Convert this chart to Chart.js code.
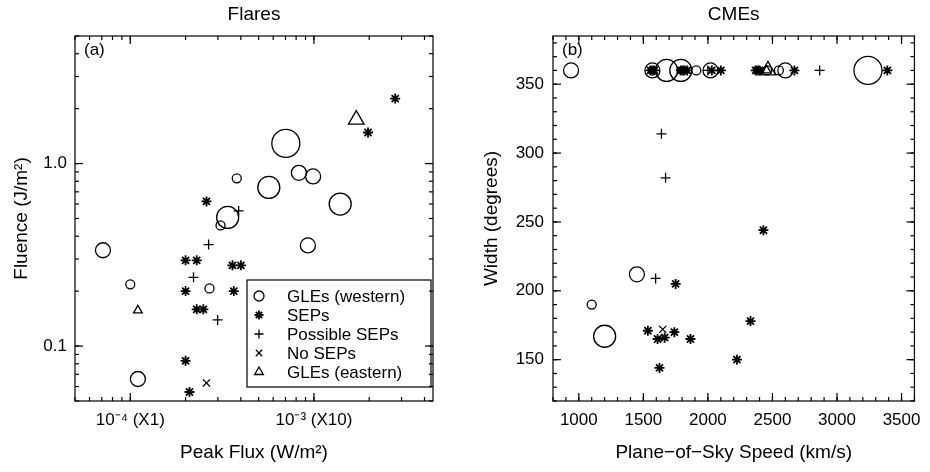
<!DOCTYPE html>
<html>
<head>
<meta charset="utf-8">
<script src="https://cdn.jsdelivr.net/npm/chart.js@4.4.1/dist/chart.umd.min.js"></script>
<style>
    html, body { margin: 0; padding: 0; background: #fff; }
    #wrap { position: relative; width: 930px; height: 472px; }
    .panel { position: absolute; top: 0; width: 465px; height: 472px; }
</style>
</head>
<body>
<div id="wrap">
    <div class="panel" style="left:0"><canvas id="flaresChart"></canvas></div>
    <div class="panel" style="left:465px"><canvas id="cmesChart"></canvas></div>
</div>
<script>
// ---- (a) Flares: peak flux (W/m2) vs fluence (J/m2) ----
const flareGleWFlux    = [7.1e-5, 1.0e-4, 1.1e-4, 2.7e-4, 3.1e-4, 3.39e-4, 3.8e-4, 5.68e-4, 7.03e-4, 8.28e-4, 9.9e-4, 9.27e-4, 1.39e-3];
const flareGleWFluence = [0.335, 0.218, 0.066, 0.207, 0.458, 0.507, 0.83, 0.74, 1.29, 0.89, 0.85, 0.356, 0.60];
const flareGleWClass   = [2, 1, 2, 1, 1, 3, 1, 3, 4, 2, 2, 2, 3];

const flareSepFlux    = [2.6e-4, 2.0e-4, 2.3e-4, 3.6e-4, 4.0e-4, 2.0e-4, 3.66e-4, 2.3e-4, 2.5e-4, 2.0e-4, 2.1e-4, 1.97e-3, 2.77e-3];
const flareSepFluence = [0.62, 0.295, 0.295, 0.277, 0.277, 0.2, 0.2, 0.159, 0.159, 0.083, 0.056, 1.48, 2.27];

const flarePossFlux    = [3.89e-4, 2.67e-4, 2.21e-4, 2.99e-4];
const flarePossFluence = [0.55, 0.36, 0.238, 0.139];

const flareNoSepFlux    = [2.6e-4];
const flareNoSepFluence = [0.0628];

const flareGleEFlux    = [1.1e-4, 1.7e-3];
const flareGleEFluence = [0.157, 1.74];
const flareGleEClass   = [1, 3];

const fluxTicks = [1e-4, 1e-3];
const fluxTickLabels = ['10\u207B\u2074 (X1)', '10\u207B\u00B3 (X10)'];
const fluenceTicks = [0.1, 1];
const fluenceTickLabels = ['0.1', '1.0'];

// ---- (b) CMEs: plane-of-sky speed (km/s) vs width (degrees) ----
const cmeGleWSpeed = [940, 1570, 1680, 1790, 1910, 2020, 2460, 2550, 2600, 3240, 1450, 1100, 1200];
const cmeGleWWidth = [360, 360, 360, 360, 360, 360, 360, 360, 360, 360, 212, 190, 167];
const cmeGleWClass = [2, 2, 3, 3, 1, 2, 1, 1, 2, 4, 2, 1, 3];

const cmeSepSpeed = [1555, 1570, 1585, 1790, 1805, 1820, 1840, 2030, 2100, 2370, 2385, 2400, 2670, 3390,
                     1750, 1535, 1610, 1665, 1740, 1865, 1625, 2225, 2330, 2430];
const cmeSepWidth = [360, 360, 360, 360, 360, 360, 360, 360, 360, 360, 360, 360, 360, 360,
                     205, 171, 165, 166, 170, 165, 144, 150, 178, 244];

const cmePossSpeed = [1595, 1640, 1672, 2000, 2866];
const cmePossWidth = [209, 314, 282, 360, 360];

const cmeNoSepSpeed = [1650];
const cmeNoSepWidth = [172];

const cmeGleESpeed = [2455, 2465];
const cmeGleEWidth = [360, 360];
const cmeGleEClass = [1, 3];

const speedTicks = [1000, 1500, 2000, 2500, 3000, 3500];
const widthTicks = [150, 200, 250, 300, 350];

// marker radius for each size class
const circleRadius = [0, 4.5, 7.5, 11, 14];
const triangleRadius = [0, 5, 7, 9];

const FONT = "'Liberation Sans', Arial, Helvetica, sans-serif";

function pts(xs, ys) {
    return xs.map(function(x, i) { return {x: x, y: ys[i]}; });
}

const styles = {
    gleW:  {label: 'GLEs (western)', pointStyle: 'circle',   borderWidth: 1.3, radius: 0, legendRadius: 5},
    sep:   {label: 'SEPs',           pointStyle: 'star',     borderWidth: 1.8, radius: 5, legendRadius: 4.5},
    poss:  {label: 'Possible SEPs',  pointStyle: 'cross',    borderWidth: 1.3, radius: 5, legendRadius: 4.5},
    noSep: {label: 'No SEPs',        pointStyle: 'crossRot', borderWidth: 1.3, radius: 5, legendRadius: 4.5},
    gleE:  {label: 'GLEs (eastern)', pointStyle: 'triangle', borderWidth: 1.3, radius: 0, legendRadius: 5}
};

function dataset(key, data, radius) {
    const s = styles[key];
    return {
        label: s.label,
        data: data,
        pointStyle: s.pointStyle,
        pointRadius: radius === undefined ? s.radius : radius,
        backgroundColor: 'rgba(0,0,0,0)',
        borderColor: '#000',
        borderWidth: s.borderWidth
    };
}

function logMinor(min, max) {
    const out = [];
    for (let d = 1e-6; d < 100; d *= 10) {
        for (let m = 1; m <= 9; m++) {
            const v = +(m * d).toPrecision(3);
            if (v >= min && v <= max) out.push(v);
        }
    }
    return out;
}

function linMinor(min, max, step) {
    const out = [];
    for (let v = Math.ceil(min / step) * step; v <= max; v += step) out.push(v);
    return out;
}

// frame with inward ticks on all four sides + panel tag
const framePlugin = {
    id: 'frame',
    afterDraw(chart, args, opts) {
        const ctx = chart.ctx;
        const a = chart.chartArea;
        const sx = chart.scales.x, sy = chart.scales.y;
        ctx.save();
        ctx.strokeStyle = '#000';
        ctx.lineWidth = 1.2;
        ctx.strokeRect(a.left, a.top, a.right - a.left, a.bottom - a.top);

        function seg(x1, y1, x2, y2) {
            ctx.beginPath(); ctx.moveTo(x1, y1); ctx.lineTo(x2, y2); ctx.stroke();
        }
        function xTicks(vals, len) {
            vals.forEach(function(v) {
                const p = sx.getPixelForValue(v);
                if (p < a.left - 0.5 || p > a.right + 0.5) return;
                seg(p, a.bottom, p, a.bottom - len);
                seg(p, a.top, p, a.top + len);
            });
        }
        function yTicks(vals, len) {
            vals.forEach(function(v) {
                const p = sy.getPixelForValue(v);
                if (p < a.top - 0.5 || p > a.bottom + 0.5) return;
                seg(a.left, p, a.left + len, p);
                seg(a.right, p, a.right - len, p);
            });
        }
        xTicks(opts.xMinor, 4);
        xTicks(opts.xMajor, 8);
        yTicks(opts.yMinor, 4);
        yTicks(opts.yMajor, 8);

        ctx.fillStyle = '#000';
        ctx.font = '17px ' + FONT;
        ctx.textAlign = 'left';
        ctx.textBaseline = 'middle';
        ctx.fillText(opts.tag, a.left + 9, a.top + 14);
        ctx.restore();
    }
};

// boxed legend inside the flares panel
const boxLegendPlugin = {
    id: 'boxLegend',
    afterDraw(chart, args, opts) {
        if (!opts.show) return;
        const ctx = chart.ctx;
        const a = chart.chartArea;
        const left = a.left + 172, top = a.top + 244;
        const right = a.right - 2, bottom = a.top + 351;
        ctx.save();
        ctx.strokeStyle = '#000';
        ctx.lineWidth = 1.2;
        ctx.strokeRect(left, top, right - left, bottom - top);
        ctx.font = '17px ' + FONT;
        ctx.textAlign = 'left';
        ctx.textBaseline = 'middle';
        ['gleW', 'sep', 'poss', 'noSep', 'gleE'].forEach(function(key, i) {
            const s = styles[key];
            const y = top + 16 + i * 19;
            ctx.strokeStyle = '#000';
            ctx.fillStyle = 'rgba(0,0,0,0)';
            ctx.lineWidth = s.borderWidth;
            Chart.helpers.drawPoint(ctx, {pointStyle: s.pointStyle, rotation: 0, radius: s.legendRadius, borderWidth: s.borderWidth}, left + 12, y);
            ctx.fillStyle = '#000';
            ctx.fillText(s.label, left + 40, y + 1);
        });
        ctx.restore();
    }
};

function axisCommon(tickValues, tickLabels, pad) {
    return {
        afterBuildTicks: function(scale) {
            scale.ticks = tickValues.map(function(v) { return {value: v}; });
        },
        grid: {display: false, drawTicks: false},
        border: {display: false},
        ticks: {
            autoSkip: false,
            maxRotation: 0,
            padding: pad,
            color: '#000',
            font: {family: FONT, size: 17},
            callback: function(value, index) { return tickLabels[index]; }
        }
    };
}

function buildChart(canvasId, cfg) {
    const xAxis = Object.assign(axisCommon(cfg.xTicks, cfg.xTickLabels, 9), {
        type: cfg.xType, min: cfg.xMin, max: cfg.xMax,
        afterFit: function(scale) { scale.height = 71; },
        title: {display: true, text: cfg.xTitle, color: '#000', font: {family: FONT, size: 19}, padding: {top: 0, bottom: 8}}
    });
    const yAxis = Object.assign(axisCommon(cfg.yTicks, cfg.yTickLabels, cfg.yPad), {
        type: cfg.yType, min: cfg.yMin, max: cfg.yMax,
        afterFit: function(scale) { scale.width = cfg.yWidth; },
        title: {display: true, text: cfg.yTitle, color: '#000', font: {family: FONT, size: 19}, padding: {top: cfg.yTitlePad, bottom: 0}}
    });
    return new Chart(document.getElementById(canvasId), {
        type: 'scatter',
        data: {datasets: cfg.datasets},
        options: {
            responsive: true,
            maintainAspectRatio: false,
            animation: false,
            events: [],
            layout: {padding: {left: 0, right: cfg.rightPad, top: 0, bottom: 0}},
            scales: {x: xAxis, y: yAxis},
            plugins: {
                legend: {display: false},
                tooltip: {enabled: false},
                title: {
                    display: true, text: cfg.title, color: '#000', fullSize: false,
                    font: {family: FONT, size: 19, weight: 'normal'},
                    padding: {top: 3, bottom: 10.2}
                },
                frame: {tag: cfg.tag, xMajor: cfg.xTicks, xMinor: cfg.xMinor, yMajor: cfg.yTicks, yMinor: cfg.yMinor},
                boxLegend: {show: cfg.legend}
            }
        },
        plugins: [framePlugin, boxLegendPlugin]
    });
}

buildChart('flaresChart', {
    title: 'Flares', tag: '(a)', legend: true,
    xType: 'logarithmic', xMin: 5e-5, xMax: 4.45e-3,
    yType: 'logarithmic', yMin: 0.05, yMax: 5,
    xTicks: fluxTicks, xTickLabels: fluxTickLabels, xMinor: logMinor(5e-5, 4.45e-3),
    yTicks: fluenceTicks, yTickLabels: fluenceTickLabels, yMinor: logMinor(0.05, 5),
    xTitle: 'Peak Flux (W/m\u00B2)', yTitle: 'Fluence (J/m\u00B2)',
    yWidth: 75, yPad: 8, yTitlePad: 10.6, rightPad: 32,
    datasets: [
        dataset('gleW', pts(flareGleWFlux, flareGleWFluence), flareGleWClass.map(function(c) { return circleRadius[c]; })),
        dataset('sep', pts(flareSepFlux, flareSepFluence)),
        dataset('poss', pts(flarePossFlux, flarePossFluence)),
        dataset('noSep', pts(flareNoSepFlux, flareNoSepFluence)),
        dataset('gleE', pts(flareGleEFlux, flareGleEFluence), flareGleEClass.map(function(c) { return triangleRadius[c]; }))
    ]
});

buildChart('cmesChart', {
    title: 'CMEs', tag: '(b)', legend: false,
    xType: 'linear', xMin: 800, xMax: 3600,
    yType: 'linear', yMin: 120, yMax: 385,
    xTicks: speedTicks, xTickLabels: speedTicks.map(String), xMinor: linMinor(800, 3600, 100),
    yTicks: widthTicks, yTickLabels: widthTicks.map(String), yMinor: linMinor(120, 385, 10),
    xTitle: 'Plane\u2212of\u2212Sky Speed (km/s)', yTitle: 'Width (degrees)',
    yWidth: 88, yPad: 9, yTitlePad: 15.6, rightPad: 11,
    datasets: [
        dataset('gleW', pts(cmeGleWSpeed, cmeGleWWidth), cmeGleWClass.map(function(c) { return circleRadius[c]; })),
        dataset('sep', pts(cmeSepSpeed, cmeSepWidth)),
        dataset('poss', pts(cmePossSpeed, cmePossWidth)),
        dataset('noSep', pts(cmeNoSepSpeed, cmeNoSepWidth)),
        dataset('gleE', pts(cmeGleESpeed, cmeGleEWidth), cmeGleEClass.map(function(c) { return triangleRadius[c]; }))
    ]
});
</script>
</body>
</html>
